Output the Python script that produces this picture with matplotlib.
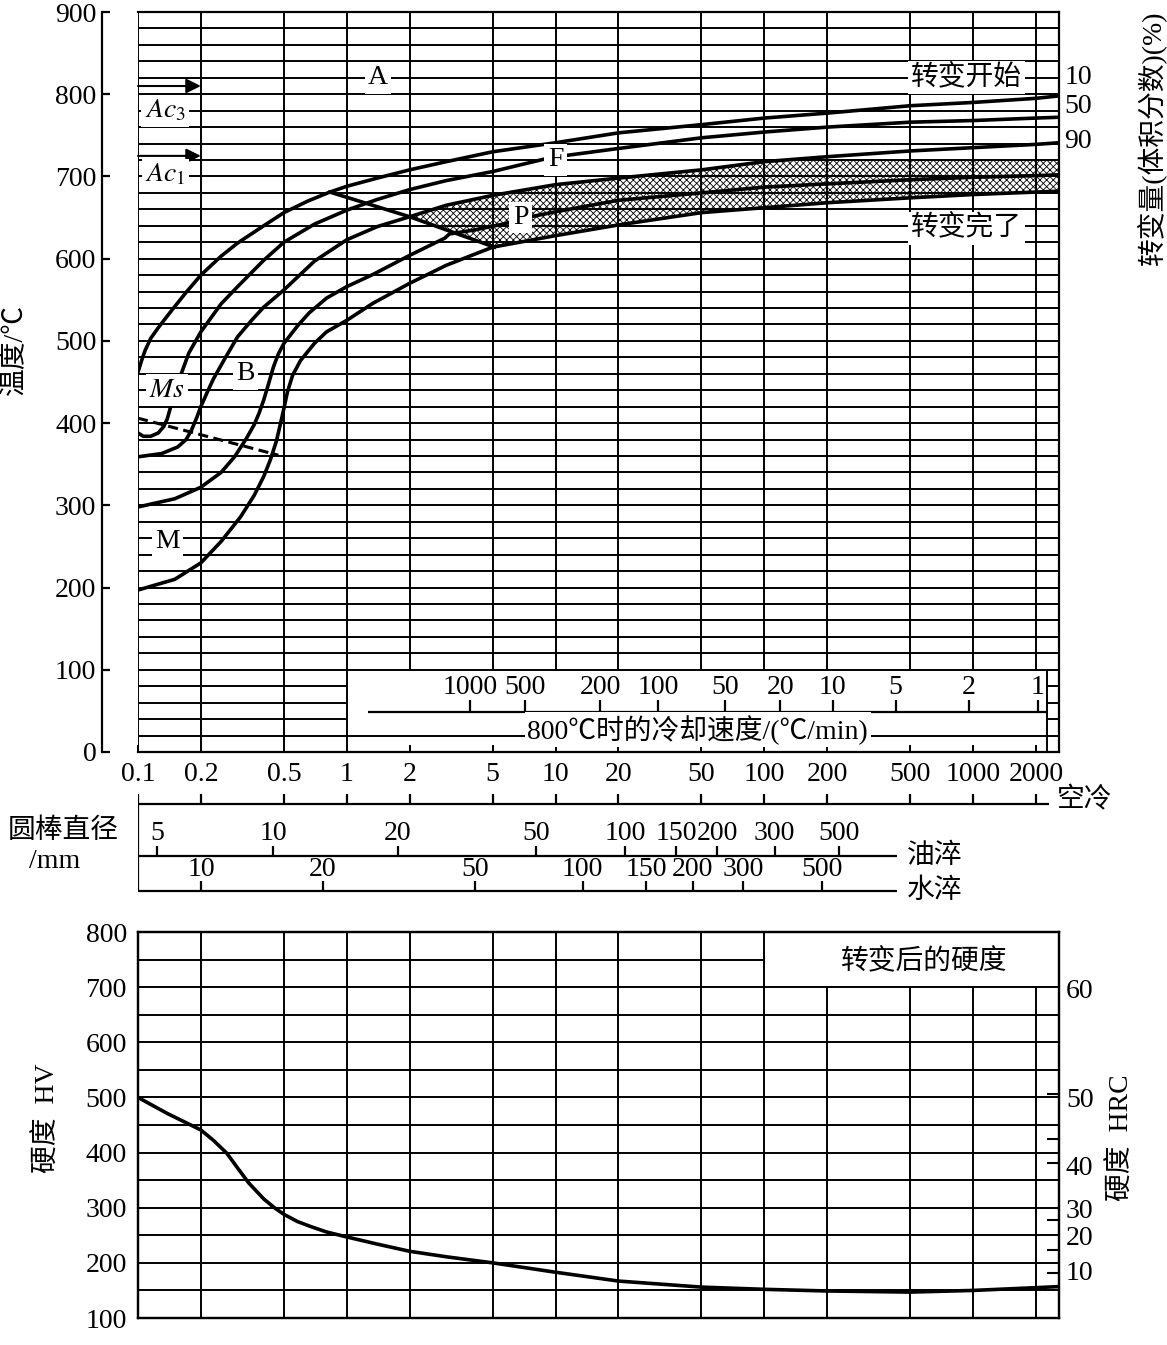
import numpy as np
import matplotlib.pyplot as plt
from matplotlib.ticker import NullLocator

plt.rcParams['font.family'] = ['Liberation Serif', 'Noto Sans CJK SC']
plt.rcParams['mathtext.fontset'] = 'stix'
plt.rcParams['font.size'] = 20
plt.rcParams['hatch.linewidth'] = 0.6

W, H = 1167, 1345
X_MAX = 2580      # right edge of the time axis
BOX_R = 2250      # right edge of the cooling-rate box

# time axis (s)
time_ticks = [0.1, 0.2, 0.5, 1, 2, 5, 10, 20, 50, 100, 200, 500, 1000, 2000]
time_labels = ['0.1', '0.2', '0.5', '1', '2', '5', '10', '20', '50', '100',
               '200', '500', '1000', '2000']

# transformation lines: time (s) / temperature (C)
a_time = [0.1, 0.104, 0.108, 0.115, 0.125, 0.135, 0.147, 0.17, 0.2, 0.25, 0.3,
          0.4, 0.5, 0.65, 0.83, 1, 1.4, 2, 3, 5, 10, 20, 50, 100, 200, 500,
          1000, 2000, 2580]
a_temp = [462, 476, 488, 503, 516, 527, 539, 559, 580, 603, 619,
          640, 656, 670, 681, 688, 698, 708, 718, 730, 741, 753, 763, 771, 777, 786,
          790, 795, 798]

b_time = [0.1, 0.106, 0.115, 0.125, 0.133, 0.138, 0.142, 0.15, 0.159, 0.175, 0.2,
          0.25, 0.3, 0.4, 0.5, 0.7, 1, 1.4, 2, 3, 5, 8.8, 11.6, 20, 50, 100,
          200, 500, 1000, 2000, 2580]
b_temp = [388, 384, 384, 388, 396, 405, 416, 438, 456, 485, 511,
          545, 566, 598, 620, 642, 659, 672, 684, 695, 706, 721, 726, 734, 747, 754,
          760, 766, 768, 771, 772]

c_time = [0.1, 0.13, 0.155, 0.17, 0.18, 0.19, 0.2, 0.215, 0.23, 0.26, 0.3, 0.35,
          0.4, 0.5, 0.7, 1, 1.4, 2, 3, 5, 10, 20, 50, 100, 200, 500, 1000, 2000,
          2580]
c_temp = [359, 363, 371, 380, 391, 405, 420, 438, 454, 478, 505, 525,
          541, 562, 597, 623, 639, 651, 665, 677, 690, 698, 708, 718, 724, 731, 735,
          739, 741]

d_time = [0.1, 0.15, 0.2, 0.25, 0.29, 0.33, 0.36, 0.38, 0.40, 0.42, 0.445, 0.47,
          0.5, 0.58, 0.66, 0.8, 1, 1.34, 2, 2.95, 3.1, 4.1, 5.6, 7.6, 10, 20, 50,
          100, 200, 500, 1000, 2000, 2580]
d_temp = [298, 308, 322, 340, 359, 381, 398, 412, 428, 446, 468, 484,
          497, 518, 534, 552, 566, 581, 604, 625, 630, 635, 642, 651, 657, 671, 680,
          687, 691, 696, 699, 701, 702]

e_time = [0.1, 0.15, 0.2, 0.25, 0.31, 0.36, 0.40, 0.43, 0.46, 0.48, 0.5, 0.52,
          0.55, 0.6, 0.7, 0.8, 1, 1.34, 2, 3, 5, 10, 20, 50, 100, 200, 500, 1000,
          2000, 2580]
e_temp = [197, 210, 230, 256, 286, 312, 335, 355, 378, 398, 418, 438,
          458, 476, 497, 511, 525, 546, 570, 592, 614, 628, 641, 656, 662, 668, 674,
          678, 681, 682]

# pearlite field boundaries
p_top_time = [2, 3, 5, 10, 20, 50, 100, 200, 500, 2000, 2580]
p_top_temp = [651, 665, 677, 690, 698, 708, 718, 719, 719, 720, 720]
p_bot_time = [2, 5, 10, 20, 50, 100, 200, 500, 1000, 2000, 2580]
p_bot_temp = [651, 614, 628, 641, 656, 662, 668, 674, 678, 681, 682]

# ferrite / pearlite border line
fp_time = [0.83, 2, 5.1]
fp_temp = [681, 651, 614]

# Ms line
ms_time = [0.1, 0.47]
ms_temp = [406, 361]

# Ac points
ac3_temp = 810
ac1_temp = 725

# cooling rate at 800 C (C/min) and the time it sits at
rate_labels = ['1000', '500', '200', '100', '50', '20', '10', '5', '2', '1']
rate_time = [3.90, 7.11, 16.4, 31.1, 64.9, 119, 213, 426, 955, 2043]

# bar diameter (mm) scales
oil_labels = ['5', '10', '20', '50', '100', '150', '200', '300', '500']
oil_time = [0.123, 0.443, 1.76, 8.05, 21.6, 37.9, 59.4, 112, 228]
water_labels = ['10', '20', '50', '100', '150', '200', '300', '500']
water_time = [0.201, 0.767, 4.12, 13.5, 27.2, 45.3, 78.9, 190]
air_end = 2300
quench_end = 430

# hardness after transformation
hard_time = [0.1, 0.138, 0.2, 0.23, 0.266, 0.3, 0.339, 0.4, 0.45, 0.5, 0.58,
             0.67, 0.8, 1, 1.4, 2, 3, 5, 10, 20, 50, 100, 200, 500, 1000, 2000,
             2580]
hard_hv = [500, 471, 441, 422, 399, 372, 345, 316, 300, 288, 275,
           266, 256, 247, 234, 221, 211, 200, 183, 167, 156, 152, 149, 147, 150, 155,
           157]
hv_ticks = [100, 200, 300, 400, 500, 600, 700, 800]
hrc_labels = ['60', '50', '40', '30', '20', '10']
hrc_label_hv = [698, 499, 376, 299, 250, 187]
hrc_tick_hv = [506, 425, 381, 278, 223, 182]


def box(l, t, r, b):
    return [l / W, 1 - b / H, (r - l) / W, (b - t) / H]


def ftext(xp, yp, s, **kw):
    kw.setdefault('ha', 'center')
    kw.setdefault('va', 'center')
    fig.text(xp / W, 1 - yp / H, s, **kw)


LW_GRID = 1.4
LW_CURVE = 2.6
white = dict(boxstyle='square,pad=0.12', fc='white', ec='none')

fig = plt.figure(figsize=(W / 100, H / 100), dpi=100)

# ---------------- CCT diagram ----------------
ax = fig.add_axes(box(138, 12, 1059, 752))
ax.set_xscale('log')
ax.set_xlim(0.1, X_MAX)
ax.set_ylim(0, 900)

for t in range(20, 900, 20):
    if t >= 100 or t == 20:
        ax.hlines(t, 0.1, X_MAX, color='k', lw=LW_GRID, zorder=1)
    else:
        ax.hlines(t, 0.1, 1, color='k', lw=LW_GRID, zorder=1)
        ax.hlines(t, BOX_R, X_MAX, color='k', lw=LW_GRID, zorder=1)
for x in time_ticks:
    ax.vlines(x, 0 if x <= 1 else 100, 900, color='k', lw=LW_GRID, zorder=1)
ax.vlines(BOX_R, 0, 100, color='k', lw=LW_GRID, zorder=1)

hx = list(p_top_time) + list(p_bot_time[::-1])
hy = list(p_top_temp) + list(p_bot_temp[::-1])
ax.fill(hx, hy, facecolor='none', edgecolor='k', hatch='xxxxx', lw=0, zorder=2)

for xs, ys in [(a_time, a_temp), (b_time, b_temp), (c_time, c_temp),
               (d_time, d_temp), (e_time, e_temp), (fp_time, fp_temp)]:
    ax.plot(xs, ys, color='k', lw=LW_CURVE, zorder=3, solid_joinstyle='round')
ax.plot(ms_time, ms_temp, color='k', lw=2.2, ls=(0, (3.3, 1.8)), zorder=3)

for tt in (ac3_temp, ac1_temp):
    ax.annotate('', xy=(0.2, tt), xytext=(0.1, tt), zorder=4,
                arrowprops=dict(arrowstyle='-|>', color='k', lw=1.5,
                                mutation_scale=22, shrinkA=0, shrinkB=0))

ax.text(0.135, 780, r'$Ac_3$', ha='center', va='center', bbox=white, zorder=5)
ax.text(0.135, 702, r'$Ac_1$', ha='center', va='center', bbox=white, zorder=5)
ax.text(0.138, 440, r'$Ms$', ha='center', va='center', bbox=white, zorder=5)
ax.text(1.41, 820, 'A', ha='center', va='center', bbox=white, zorder=5)
ax.text(10, 720, 'F', ha='center', va='center', bbox=white, zorder=5)
ax.text(6.8, 650, 'P', ha='center', va='center', bbox=white, zorder=5)
ax.text(0.326, 460, 'B', ha='center', va='center', bbox=white, zorder=5)
ax.text(0.138, 256, 'M', ha='center', va='center', bbox=white, zorder=5)
ax.text(930, 820, '转变开始', ha='center', va='center', bbox=white, zorder=5)
ax.text(930, 637, '转变完了', ha='center', va='center', bbox=white, zorder=5)

tr = ax.get_yaxis_transform()
for s, tt in [('10', 820), ('50', 785), ('90', 742)]:
    ax.text(1.006, tt, s, transform=tr, ha='left', va='center', clip_on=False)

# cooling rate scale inside the box
ax.hlines(48.7, 1.26, BOX_R, color='k', lw=1.6, zorder=3)
ax.vlines(rate_time, 48.7, 63, color='k', lw=1.6, zorder=3)
for s, x in zip(rate_labels, rate_time):
    ax.text(x, 78, s, ha='center', va='center', zorder=5)
ax.text(48, 27, '800℃时的冷却速度/(℃/min)', ha='center', va='center',
        bbox=dict(boxstyle='square,pad=0.1', fc='white', ec='none'), zorder=5)

ax.set_xticks(time_ticks, time_labels)
ax.xaxis.set_minor_locator(NullLocator())
ax.set_yticks(range(0, 901, 100))
ax.tick_params(axis='x', direction='in', length=5, width=1.4, pad=7, top=False)
ax.tick_params(axis='y', direction='in', length=6, width=1.6, pad=4, right=False)
ax.spines['left'].set_position(('outward', 26))
for sp in ax.spines.values():
    sp.set_linewidth(1.6)

# ---------------- equivalent bar diameter scales ----------------
axs = fig.add_axes(box(138, 752, 1059, 930))
axs.set_xscale('log')
axs.set_xlim(0.1, X_MAX)
axs.set_ylim(930, 752)
axs.axis('off')
axs.hlines(804, 0.1, air_end, color='k', lw=1.6)
axs.vlines(time_ticks, 794, 804, color='k', lw=1.6)
axs.vlines(0.1, 804, 891, color='k', lw=1.6)
axs.hlines(856, 0.1, quench_end, color='k', lw=1.6)
axs.vlines(oil_time, 846, 856, color='k', lw=1.6)
for s, x in zip(oil_labels, oil_time):
    axs.text(x, 833, s, ha='center', va='center')
axs.hlines(891, 0.1, quench_end, color='k', lw=1.6)
axs.vlines(water_time, 881, 891, color='k', lw=1.6)
for s, x in zip(water_labels, water_time):
    axs.text(x, 870, s, ha='center', va='center')

# ---------------- hardness ----------------
axb = fig.add_axes(box(138, 932, 1059, 1318))
axb.set_xscale('log')
axb.set_xlim(0.1, X_MAX)
axb.set_ylim(100, 800)
for hv in range(150, 800, 50):
    axb.hlines(hv, 0.1, 100 if hv == 750 else X_MAX, color='k', lw=LW_GRID, zorder=1)
for x in time_ticks[1:]:
    axb.vlines(x, 100, 800 if x <= 100 else 700, color='k', lw=LW_GRID, zorder=1)
axb.plot(hard_time, hard_hv, color='k', lw=LW_CURVE, zorder=3, solid_joinstyle='round')
axb.text(582, 746, '转变后的硬度', ha='center', va='center')
axb.set_xticks([])
axb.xaxis.set_minor_locator(NullLocator())
axb.set_yticks(hv_ticks)
axb.tick_params(axis='y', length=0, pad=8)
for sp in axb.spines.values():
    sp.set_linewidth(1.6)

axr = axb.twinx()
axr.set_ylim(100, 800)
axr.set_yticks(hrc_label_hv, hrc_labels)
axr.set_yticks(hrc_tick_hv, minor=True)
axr.tick_params(axis='y', which='major', length=0, pad=5)
axr.tick_params(axis='y', which='minor', direction='in', length=9, width=1.5)
for sp in axr.spines.values():
    sp.set_linewidth(1.6)

# ---------------- free labels ----------------
ftext(15, 350, '温度/℃', rotation=90)
ftext(1152, 138, '转变量(体积分数)(%)', rotation=90)
ftext(1085, 800, '空冷')
ftext(935, 856, '油淬')
ftext(935, 891, '水淬')
ftext(63, 831, '圆棒直径')
ftext(55, 862, '/mm')
ftext(48, 1118, '硬度  HV', rotation=90)
ftext(1122, 1138, '硬度  HRC', rotation=90)

fig.savefig('out.png', dpi=100)
